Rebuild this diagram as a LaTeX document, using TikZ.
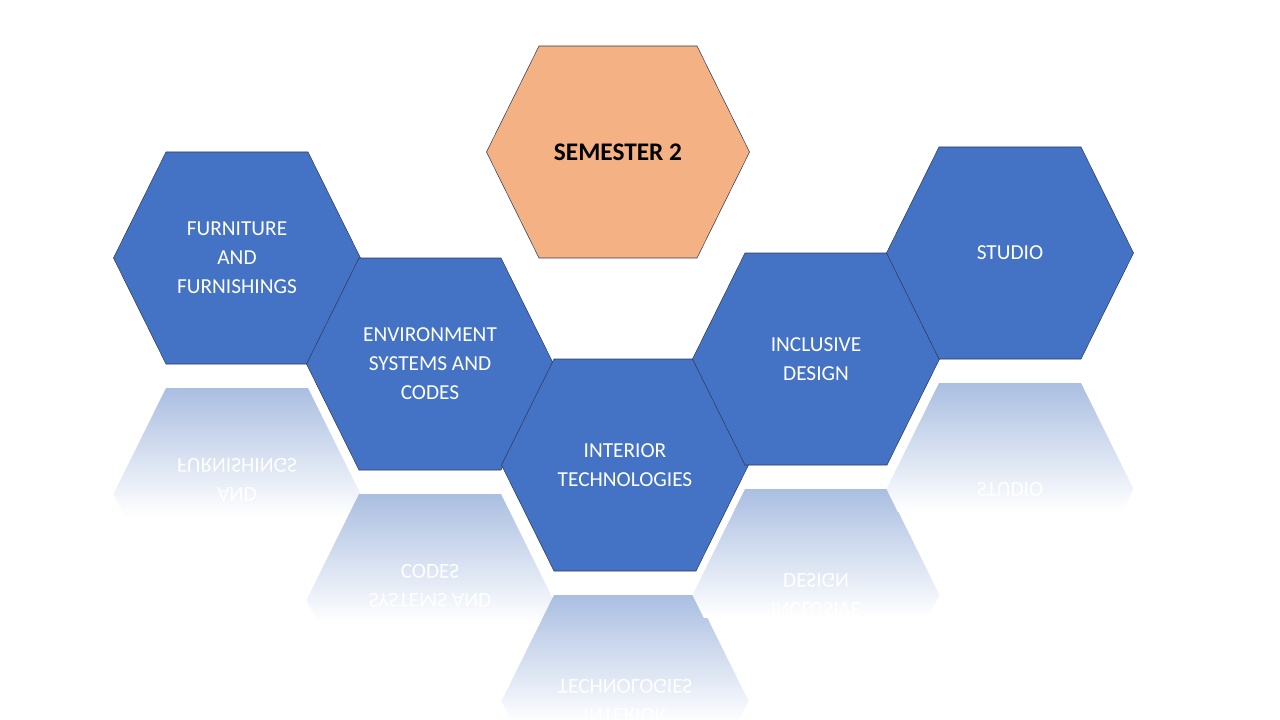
\documentclass[tikz,border=0pt]{standalone}
\usepackage{fontspec}
\setmainfont{Carlito}
\definecolor{hexblue}{RGB}{68,114,196}
\definecolor{hexorange}{RGB}{244,177,131}
\definecolor{hexedge}{RGB}{47,60,90}
\definecolor{reflblue}{RGB}{170,190,225}
\newcommand{\hexpath}[4]{(#1-#3,#2) -- (#1-#4,#2-106) -- (#1+#4,#2-106)
  -- (#1+#3,#2) -- (#1+#4,#2+106) -- (#1-#4,#2+106) -- cycle}

\begin{document}
\begin{tikzpicture}[x=0.75pt,y=-0.75pt,
  hexlabel/.style={text=white,font=\fontsize{16}{21.75}\selectfont,align=center},
  semithick]
  \useasboundingbox (0,0) rectangle (1280,720);

  % reflections
  \foreach \cx/\cy/\txt/\nm in {237/258/{FURNITURE\\AND\\FURNISHINGS}/furn,
      430/364/{ENVIRONMENT\\SYSTEMS AND\\CODES}/env,
      625/465/{INTERIOR\\TECHNOLOGIES}/inter,
      816/359/{INCLUSIVE\\DESIGN}/incl,
      1010/253/{STUDIO}/stud} {
    \begin{scope}
      \clip \hexpath{\cx}{\cy+236}{123.5}{71};
      \shade[top color=reflblue,bottom color=white]
        (\cx-130,\cy+130) rectangle (\cx+130,\cy+258);
      \node[hexlabel,yscale=-1,transform shape] (\nm-r) at (\cx,\cy+236) {\txt};
    \end{scope}
  }

  % hexagons
  \foreach \cx/\cy/\txt/\nm in {237/258/{FURNITURE\\AND\\FURNISHINGS}/furn,
      430/364/{ENVIRONMENT\\SYSTEMS AND\\CODES}/env,
      625/465/{INTERIOR\\TECHNOLOGIES}/inter,
      816/359/{INCLUSIVE\\DESIGN}/incl,
      1010/253/{STUDIO}/stud} {
    \filldraw[fill=hexblue,draw=hexedge,thin] \hexpath{\cx}{\cy}{123.5}{71};
    \node[hexlabel] (\nm) at (\cx,\cy) {\txt};
  }

  \filldraw[fill=hexorange,draw=hexedge,thin] \hexpath{618}{152}{131.5}{79};
  \node[font=\fontsize{19}{22}\selectfont\bfseries] (sem) at (618,152) {SEMESTER 2};
\end{tikzpicture}
\end{document}
